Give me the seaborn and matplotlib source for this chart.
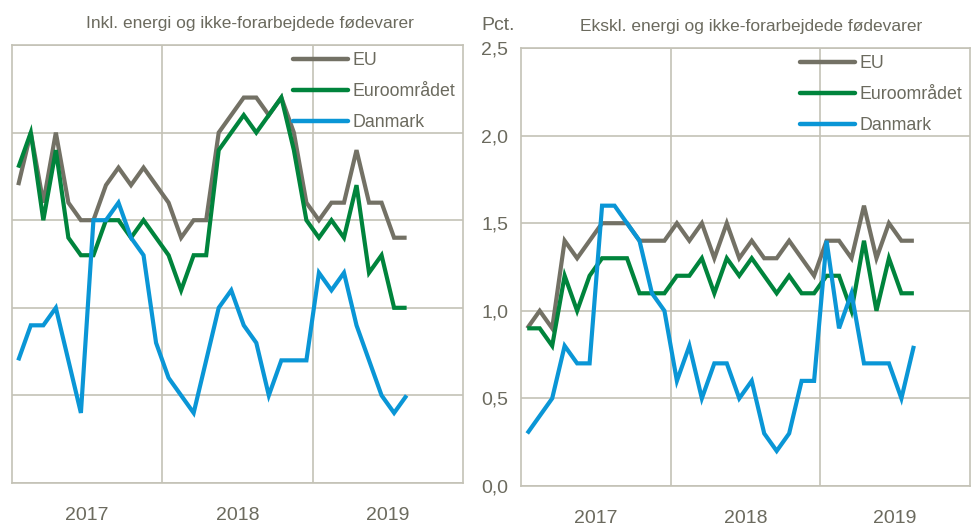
import numpy as np
import pandas as pd
import matplotlib
matplotlib.use("Agg")
import matplotlib.pyplot as plt
import seaborn as sns
from matplotlib.ticker import FixedLocator, FuncFormatter

sns.set_style("white")
plt.rcParams['font.family'] = ['Liberation Sans', 'DejaVu Sans']

# Monthly data, Jan 2017 - Aug 2019
months = pd.date_range("2017-01-01", periods=32, freq="MS")
series_names = ["EU", "Euroområdet", "Danmark"]

# Inkl. energi og ikke-forarbejdede fødevarer
inkl_eu = [1.7, 2.0, 1.6, 2.0, 1.6, 1.5, 1.5, 1.7, 1.8, 1.7, 1.8, 1.7,
           1.6, 1.4, 1.5, 1.5, 2.0, 2.1, 2.2, 2.2, 2.1, 2.2, 2.0, 1.6,
           1.5, 1.6, 1.6, 1.9, 1.6, 1.6, 1.4, 1.4]
inkl_euro = [1.8, 2.0, 1.5, 1.9, 1.4, 1.3, 1.3, 1.5, 1.5, 1.4, 1.5, 1.4,
             1.3, 1.1, 1.3, 1.3, 1.9, 2.0, 2.1, 2.0, 2.1, 2.2, 1.9, 1.5,
             1.4, 1.5, 1.4, 1.7, 1.2, 1.3, 1.0, 1.0]
inkl_dk = [0.7, 0.9, 0.9, 1.0, 0.7, 0.4, 1.5, 1.5, 1.6, 1.4, 1.3, 0.8,
           0.6, 0.5, 0.4, 0.7, 1.0, 1.1, 0.9, 0.8, 0.5, 0.7, 0.7, 0.7,
           1.2, 1.1, 1.2, 0.9, 0.7, 0.5, 0.4, 0.5]

# Ekskl. energi og ikke-forarbejdede fødevarer
ekskl_eu = [0.9, 1.0, 0.9, 1.4, 1.3, 1.4, 1.5, 1.5, 1.5, 1.4, 1.4, 1.4,
            1.5, 1.4, 1.5, 1.3, 1.5, 1.3, 1.4, 1.3, 1.3, 1.4, 1.3, 1.2,
            1.4, 1.4, 1.3, 1.6, 1.3, 1.5, 1.4, 1.4]
ekskl_euro = [0.9, 0.9, 0.8, 1.2, 1.0, 1.2, 1.3, 1.3, 1.3, 1.1, 1.1, 1.1,
              1.2, 1.2, 1.3, 1.1, 1.3, 1.2, 1.3, 1.2, 1.1, 1.2, 1.1, 1.1,
              1.2, 1.2, 1.0, 1.4, 1.0, 1.3, 1.1, 1.1]
ekskl_dk = [0.3, 0.4, 0.5, 0.8, 0.7, 0.7, 1.6, 1.6, 1.5, 1.4, 1.1, 1.0,
            0.6, 0.8, 0.5, 0.7, 0.7, 0.5, 0.6, 0.3, 0.2, 0.3, 0.6, 0.6,
            1.4, 0.9, 1.1, 0.7, 0.7, 0.7, 0.5, 0.8]

year_labels = ["2017", "2018", "2019"]
y_ticks = [0.0, 0.5, 1.0, 1.5, 2.0, 2.5]

titles = ["Inkl. energi og ikke-forarbejdede fødevarer",
          "Ekskl. energi og ikke-forarbejdede fødevarer"]
title_x = [0.528, 0.512]

colors = {"EU": "#737165", "Euroområdet": "#00843c", "Danmark": "#0a96d6"}
text_col = "#6b6a5e"
grid_col = "#c4c2b6"


def make_frame(eu, euro, dk):
    rows = []
    for name, vals in zip(series_names, [eu, euro, dk]):
        for i, v in enumerate(vals):
            rows.append({"idx": i, "maaned": months[i], "serie": name, "vaerdi": v})
    return pd.DataFrame(rows)


frames = [make_frame(inkl_eu, inkl_euro, inkl_dk),
          make_frame(ekskl_eu, ekskl_euro, ekskl_dk)]

fig = plt.figure(figsize=(9.72, 5.27), dpi=100)
ax1 = fig.add_axes([12 / 972, 44 / 527, 451 / 972, 438 / 527])
ax2 = fig.add_axes([521 / 972, 41 / 527, 449 / 972, 438 / 527])

for k, (ax, df) in enumerate(zip([ax1, ax2], frames)):
    sns.lineplot(data=df, x="idx", y="vaerdi", hue="serie", hue_order=series_names,
                 palette=colors, linewidth=3, ax=ax, legend=False)
    for ln in ax.get_lines():
        ln.set_solid_joinstyle("miter")
        ln.set_solid_capstyle("butt")

    ax.set_xlim(-0.5, 35.5)
    ax.set_ylim(0, 2.5)
    ax.yaxis.set_major_locator(FixedLocator(y_ticks))
    ax.xaxis.set_major_locator(FixedLocator([5.5, 17.5, 29.5]))
    ax.xaxis.set_minor_locator(FixedLocator([11.5, 23.5]))
    ax.set_xticklabels(year_labels)
    ax.grid(True, axis="y", color=grid_col, linewidth=1.2)
    ax.grid(True, axis="x", which="minor", color=grid_col, linewidth=1.2)
    ax.grid(False, axis="x", which="major")
    ax.tick_params(axis="both", which="both", length=0, colors=text_col, labelsize=14)
    ax.tick_params(axis="x", pad=17)
    ax.set_xlabel("")
    ax.set_ylabel("")
    for sp in ax.spines.values():
        sp.set_color(grid_col)
        sp.set_linewidth(1.2)
    ax.set_title(titles[k], color=text_col, fontsize=12.5, pad=12, x=title_x[k])

    handles = [plt.Line2D([], [], color=colors[n], linewidth=3.2) for n in series_names]
    leg = ax.legend(handles, series_names, loc="upper right", frameon=False,
                    fontsize=12.8, handlelength=3.1, handletextpad=0.28,
                    labelspacing=0.78, borderaxespad=0.0, borderpad=0.42,
                    bbox_to_anchor=(1.0, 1.0))
    for t in leg.get_texts():
        t.set_color(text_col)

ax1.set_yticklabels([])
ax2.yaxis.set_major_formatter(FuncFormatter(lambda v, p: f"{v:.1f}".replace(".", ",")))
ax2.tick_params(axis="y", pad=9)

fig.text(481 / 972, 1 - 25 / 527, "Pct.", color=text_col, fontsize=14, va="center")

fig.savefig("out.png", dpi=100)
